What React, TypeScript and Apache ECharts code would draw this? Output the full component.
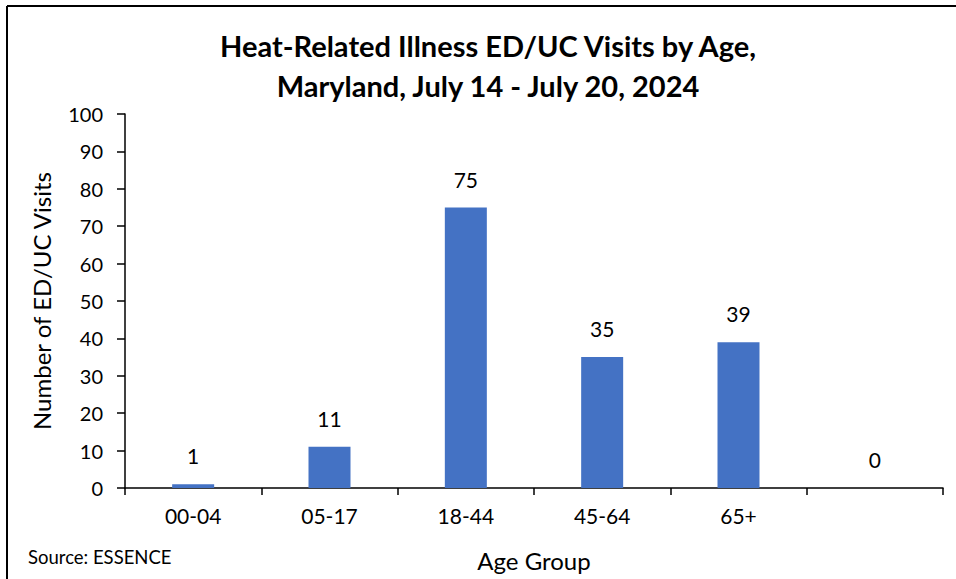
import React, { useEffect, useRef } from "react";
import * as echarts from "echarts";

const categories = ["00-04", "05-17", "18-44", "45-64", "65+", ""];
const visits = [1, 11, 75, 35, 39, 0];
const yTicks = { min: 0, max: 100, interval: 10 };
const titleText = "Heat-Related Illness ED/UC Visits by Age,\nMaryland, July 14 - July 20, 2024";
const sourceText = "Source: ESSENCE";

const FONT = "Lato, 'Liberation Sans', sans-serif";

export default function App() {
  const ref = useRef<HTMLDivElement>(null);
  useEffect(() => {
    document.body.style.margin = "0";
    const chart = echarts.init(ref.current!, null, { renderer: "svg" });
    chart.setOption({
      animation: false,
      backgroundColor: "#fff",
      textStyle: { fontFamily: FONT },
      title: {
        text: titleText,
        left: 483,
        top: 20,
        textAlign: "center",
        textStyle: { fontFamily: FONT, fontSize: 29, fontWeight: "bold", color: "#000", lineHeight: 40 },
      },
      grid: { left: 125, right: 13, top: 114, bottom: 91, containLabel: false },
      xAxis: {
        type: "category",
        data: categories,
        name: "Age Group",
        nameLocation: "middle",
        nameGap: 60,
        nameTextStyle: { fontFamily: FONT, fontSize: 24, color: "#000" },
        axisLine: { lineStyle: { color: "#000", width: 1.5 } },
        axisTick: { show: true, length: 7, interval: 0, lineStyle: { color: "#000", width: 1.5 } },
        axisLabel: { fontFamily: FONT, fontSize: 21, color: "#000", margin: 17, interval: 0 },
      },
      yAxis: {
        type: "value",
        min: yTicks.min,
        max: yTicks.max,
        interval: yTicks.interval,
        name: "Number of ED/UC Visits",
        nameLocation: "middle",
        nameGap: 72,
        nameTextStyle: { fontFamily: FONT, fontSize: 24, color: "#000" },
        axisLine: { show: true, lineStyle: { color: "#000", width: 1.5 } },
        axisTick: { show: true, length: 8, lineStyle: { color: "#000", width: 1.5 } },
        axisLabel: { fontFamily: FONT, fontSize: 20, color: "#000", margin: 22 },
        splitLine: { show: false },
      },
      series: [
        {
          type: "bar",
          data: visits,
          barWidth: 42,
          itemStyle: { color: "#4472C4" },
          label: { show: true, position: "top", distance: 18, fontFamily: FONT, fontSize: 21, color: "#000" },
        },
      ],
      graphic: [
        { type: "line", shape: { x1: 7, y1: 6, x2: 956, y2: 6 }, style: { stroke: "#000", lineWidth: 2 } },
        { type: "line", shape: { x1: 7, y1: 6, x2: 7, y2: 579 }, style: { stroke: "#000", lineWidth: 2 } },
        {
          type: "text",
          x: 28,
          y: 557,
          style: { text: sourceText, fontFamily: FONT, fontSize: 18.5, fill: "#000", textVerticalAlign: "middle" },
        },
      ],
    });
    return () => chart.dispose();
  }, []);
  return <div ref={ref} style={{ position: "fixed", left: 0, top: 0, width: 956, height: 579 }} />;
}
